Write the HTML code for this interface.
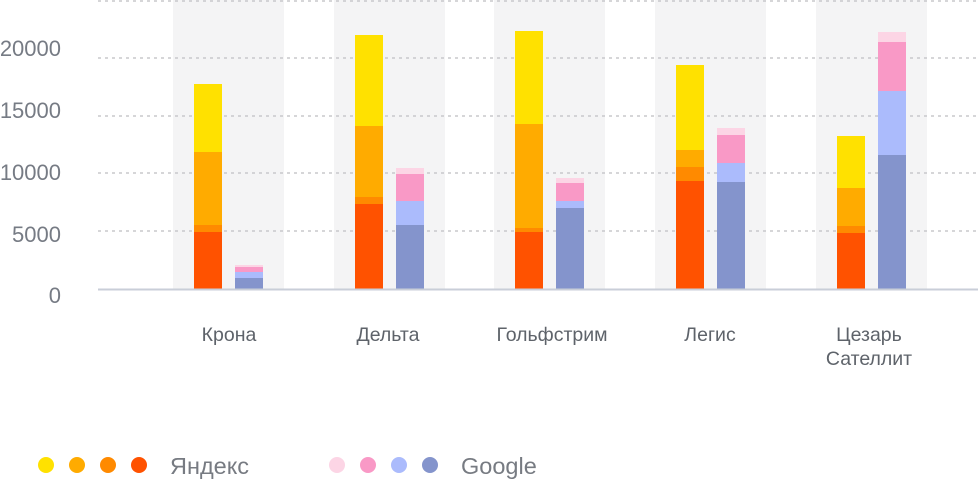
<!DOCTYPE html>
<html><head><meta charset="utf-8"><style>
body{margin:0;background:#fff;width:978px;height:479px;overflow:hidden;font-family:"Liberation Sans",sans-serif}
</style></head><body>
<svg width="978" height="479" xmlns="http://www.w3.org/2000/svg" font-family="Liberation Sans, sans-serif">
<g fill="#f4f4f5">
<rect x="173" y="0" width="111" height="289"/>
<rect x="334" y="0" width="111" height="289"/>
<rect x="494" y="0" width="111" height="289"/>
<rect x="655" y="0" width="111" height="289"/>
<rect x="816" y="0" width="111" height="289"/>
</g>
<g stroke="#c8c8cc" stroke-width="1.5" stroke-dasharray="3,4">
<line x1="98" x2="978" y1="1" y2="1"/>
<line x1="98" x2="978" y1="58" y2="58"/>
<line x1="98" x2="978" y1="116" y2="116"/>
<line x1="98" x2="978" y1="173" y2="173"/>
<line x1="98" x2="978" y1="231" y2="231"/>
</g>
<g font-size="22" fill="#767b84" text-anchor="end">
<text x="61" y="56">20000</text>
<text x="61" y="118">15000</text>
<text x="61" y="180">10000</text>
<text x="61" y="242">5000</text>
<text x="61" y="303">0</text>
</g>
<g id="bars">
<rect x="194" y="84" width="28" height="68" fill="#FFE100"/>
<rect x="194" y="152" width="28" height="73" fill="#FFAB00"/>
<rect x="194" y="225" width="28" height="7" fill="#FF8A00"/>
<rect x="194" y="232" width="28" height="57" fill="#FF5200"/>
<rect x="235" y="265" width="28" height="2" fill="#FCD5E5"/>
<rect x="235" y="267" width="28" height="5" fill="#F999C6"/>
<rect x="235" y="272" width="28" height="6" fill="#ABBBFC"/>
<rect x="235" y="278" width="28" height="11" fill="#8494CC"/>
<rect x="355" y="35" width="28" height="91" fill="#FFE100"/>
<rect x="355" y="126" width="28" height="71" fill="#FFAB00"/>
<rect x="355" y="197" width="28" height="7" fill="#FF8A00"/>
<rect x="355" y="204" width="28" height="85" fill="#FF5200"/>
<rect x="396" y="168" width="28" height="6" fill="#FCD5E5"/>
<rect x="396" y="174" width="28" height="27" fill="#F999C6"/>
<rect x="396" y="201" width="28" height="24" fill="#ABBBFC"/>
<rect x="396" y="225" width="28" height="64" fill="#8494CC"/>
<rect x="515" y="31" width="28" height="93" fill="#FFE100"/>
<rect x="515" y="124" width="28" height="104" fill="#FFAB00"/>
<rect x="515" y="228" width="28" height="4" fill="#FF8A00"/>
<rect x="515" y="232" width="28" height="57" fill="#FF5200"/>
<rect x="556" y="178" width="28" height="5" fill="#FCD5E5"/>
<rect x="556" y="183" width="28" height="18" fill="#F999C6"/>
<rect x="556" y="201" width="28" height="7" fill="#ABBBFC"/>
<rect x="556" y="208" width="28" height="81" fill="#8494CC"/>
<rect x="676" y="65" width="28" height="85" fill="#FFE100"/>
<rect x="676" y="150" width="28" height="17" fill="#FFAB00"/>
<rect x="676" y="167" width="28" height="14" fill="#FF8A00"/>
<rect x="676" y="181" width="28" height="108" fill="#FF5200"/>
<rect x="717" y="128" width="28" height="7" fill="#FCD5E5"/>
<rect x="717" y="135" width="28" height="28" fill="#F999C6"/>
<rect x="717" y="163" width="28" height="19" fill="#ABBBFC"/>
<rect x="717" y="182" width="28" height="107" fill="#8494CC"/>
<rect x="837" y="136" width="28" height="52" fill="#FFE100"/>
<rect x="837" y="188" width="28" height="38" fill="#FFAB00"/>
<rect x="837" y="226" width="28" height="7" fill="#FF8A00"/>
<rect x="837" y="233" width="28" height="56" fill="#FF5200"/>
<rect x="878" y="32" width="28" height="10" fill="#FCD5E5"/>
<rect x="878" y="42" width="28" height="49" fill="#F999C6"/>
<rect x="878" y="91" width="28" height="64" fill="#ABBBFC"/>
<rect x="878" y="155" width="28" height="134" fill="#8494CC"/>
</g>
<line x1="98" x2="978" y1="289.5" y2="289.5" stroke="#c9ced8" stroke-width="2"/>
<g font-size="19.5" fill="#5e636a" text-anchor="middle">
<text x="229" y="341">Крона</text>
<text x="388" y="341">Дельта</text>
<text x="552" y="341">Гольфстрим</text>
<text x="710" y="341">Легис</text>
<text x="869" y="341">Цезарь</text>
<text x="869" y="365">Сателлит</text>
</g>
<circle cx="46" cy="465" r="8" fill="#FFE100"/>
<circle cx="77" cy="465" r="8" fill="#FFAB00"/>
<circle cx="108" cy="465" r="8" fill="#FF8A00"/>
<circle cx="139" cy="465" r="8" fill="#FF5200"/>
<text x="170" y="474" font-size="23.5" fill="#777b82">Яндекс</text>
<circle cx="337" cy="465" r="8" fill="#FCD5E5"/>
<circle cx="368" cy="465" r="8" fill="#F999C6"/>
<circle cx="399" cy="465" r="8" fill="#ABBBFC"/>
<circle cx="430" cy="465" r="8" fill="#8494CC"/>
<text x="461" y="474" font-size="23.5" fill="#777b82">Google</text>
</svg>
</body></html>
